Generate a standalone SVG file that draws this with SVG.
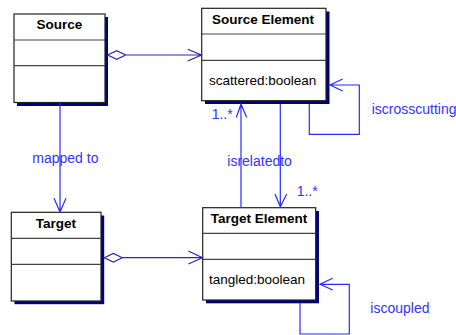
<svg xmlns="http://www.w3.org/2000/svg" width="456" height="335" viewBox="0 0 456 335">
<style>
.shadow{fill:#000080}
.box{fill:#fff;stroke:#222;stroke-width:1.2}
.div{stroke:#444;stroke-width:1.2}
.title{font-family:"Liberation Sans",Arial,sans-serif;font-weight:bold;font-size:13.5px;fill:#000;text-anchor:middle}
.attr{font-family:"Liberation Sans",Arial,sans-serif;font-size:13.5px;fill:#000}
.lbl{font-family:"Liberation Sans",Arial,sans-serif;font-size:14px;fill:#3333ff}
.ln{fill:none;stroke:#2a2aff;stroke-width:1.2}
.agg{fill:none;stroke:#2828b0;stroke-width:1.2}
</style>
<rect width="456" height="335" fill="#fff"/>
<g id="source">
<rect class="shadow" x="17" y="17" width="91" height="89"/>
<rect class="box" x="14" y="14" width="91" height="88.5"/>
<line class="div" x1="14" y1="40" x2="105" y2="40"/>
<line class="div" x1="14" y1="65.7" x2="105" y2="65.7"/>
<text class="title" x="59.5" y="28.5">Source</text>
</g>
<g id="source-element">
<rect class="shadow" x="205" y="11.5" width="124.5" height="92.5"/>
<rect class="box" x="201.7" y="8.3" width="124.3" height="92.4"/>
<line class="div" x1="201.7" y1="34" x2="326" y2="34"/>
<line class="div" x1="201.7" y1="60.3" x2="326" y2="60.3"/>
<text class="title" x="263" y="23.5">Source Element</text>
<text class="attr" x="209" y="85">scattered:boolean</text>
</g>
<g id="target">
<rect class="shadow" x="14.5" y="215.5" width="89.7" height="88.7"/>
<rect class="box" x="11.3" y="212.3" width="89.7" height="88.7"/>
<line class="div" x1="11.3" y1="238.3" x2="101" y2="238.3"/>
<line class="div" x1="11.3" y1="264.3" x2="101" y2="264.3"/>
<text class="title" x="56" y="227.5">Target</text>
</g>
<g id="target-element">
<rect class="shadow" x="206" y="211" width="113" height="92.3"/>
<rect class="box" x="202.7" y="207.7" width="113" height="92.3"/>
<line class="div" x1="202.7" y1="233.3" x2="315.7" y2="233.3"/>
<line class="div" x1="202.7" y1="259.3" x2="315.7" y2="259.3"/>
<text class="title" x="259" y="223">Target Element</text>
<text class="attr" x="209" y="284">tangled:boolean</text>
</g>
<g id="connectors">
<path class="agg" d="M107.7,55 L116.7,50.7 L125.7,55 L116.7,59.3 Z M125.7,55 L201.5,55 M187.7,49.3 L201.5,55 L187.7,61"/>
<path class="agg" d="M104.3,257.7 L113.3,253.4 L122.3,257.7 L113.3,262 Z M122.3,257.7 L202.5,257.7 M188.3,251 L202.5,257.7 L188.3,264"/>
<path class="ln" d="M60,103 L60,212 M54,198.3 L60,212 L66,198.3"/>
<path class="ln" d="M241,207.7 L241,104 M236.3,117.5 L241,104 L246.7,117.5"/>
<path class="ln" d="M280.3,104 L280.3,206.7 M275,194 L280.3,206.7 L286.7,194"/>
<path class="ln" d="M330,85 L359.3,85 L359.3,134.3 L309.3,134.3 L309.3,104 M342.7,79 L330,85 L342.7,91"/>
<path class="ln" d="M320,284.3 L349.3,284.3 L349.3,334 L300,334 L300,303 M332.7,278.3 L320,284.3 L332.7,290"/>
<text class="lbl" x="32.3" y="163">mapped to</text>
<text class="lbl" x="227.3" y="166">isrelatedto</text>
<text class="lbl" x="211.7" y="118.5">1..*</text>
<text class="lbl" x="296.7" y="196">1..*</text>
<text class="lbl" x="371.7" y="113.5">iscrosscutting</text>
<text class="lbl" x="370.3" y="313">iscoupled</text>
</g>
</svg>
